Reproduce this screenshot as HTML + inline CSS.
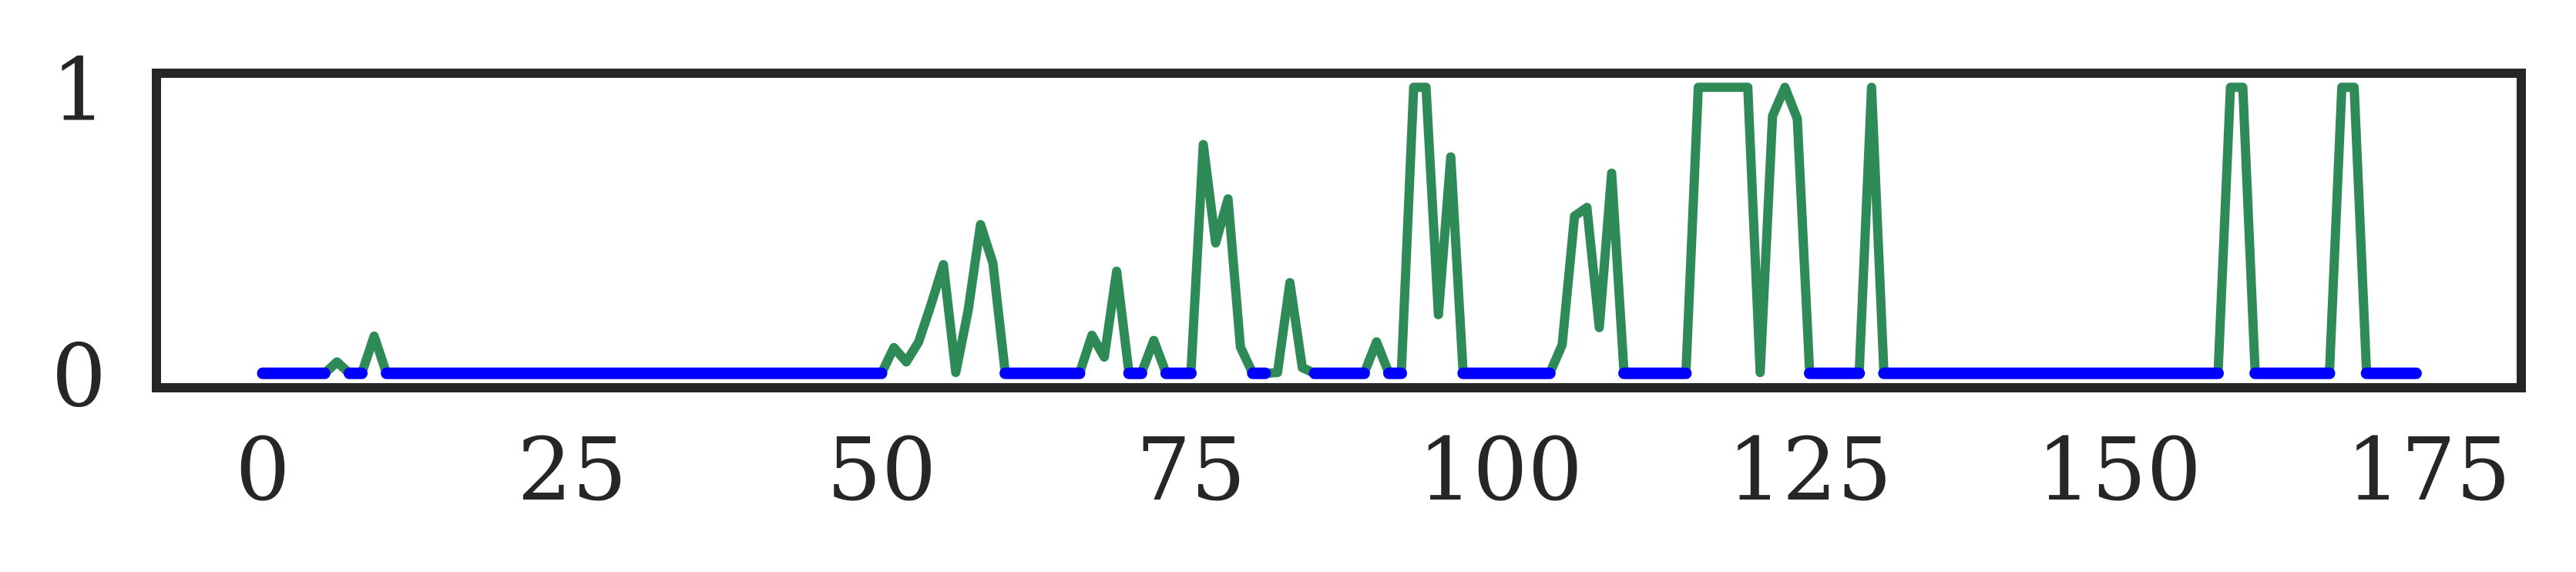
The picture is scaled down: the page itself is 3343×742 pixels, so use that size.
<!DOCTYPE html>
<html><head><meta charset="utf-8">
<style>
html,body{margin:0;padding:0;background:#fff;}
svg{display:block;}
text{font-family:"DejaVu Serif","Liberation Serif",serif;fill:#262626;}
</style></head>
<body>
<svg id="chart" width="3343" height="742" viewBox="0 0 3343 742" xmlns="http://www.w3.org/2000/svg">
<rect x="0" y="0" width="3343" height="742" fill="#fff"/>
<g id="marks"></g>
<g id="ticks"></g>
<rect x="203" y="95" width="3069" height="408" fill="none" stroke="#262626" stroke-width="12"/>
</svg>
<script>
const xTicks = [0, 25, 50, 75, 100, 125, 150, 175];
const yTicks = [0, 1];
const greenValues = [
0,0,0,0,0,0,0.04,0,0,0.13,
0,0,0,0,0,0,0,0,0,0,
0,0,0,0,0,0,0,0,0,0,
0,0,0,0,0,0,0,0,0,0,
0,0,0,0,0,0,0,0,0,0,
0,0.09,0.04,0.11,0.24,0.38,0.003,0.22,0.52,0.385,
0,0,0,0,0,0,0,0.133,0.057,0.357,
0,0,0.115,0,0,0,0.8,0.456,0.61,0.092,
0,0,0.003,0.317,0.02,0,0,0,0,0,
0.11,0,0,1,1,0.205,0.757,0,0,0,
0,0,0,0,0,0.1,0.55,0.58,0.16,0.7,
0,0,0,0,0,0,1,1,1,1,
1,0.003,0.9,1,0.89,0,0,0,0,0,
1,0,0,0,0,0,0,0,0,0,
0,0,0,0,0,0,0,0,0,0,
0,0,0,0,0,0,0,0,0,1,
1,0,0,0,0,0,0,0,1,1,
0,0,0,0,0
];
const blueValues = greenValues.map(v => v === 0 ? 0 : null);

const X0 = 341, XS = 16.06, Y0 = 484.3, YS = 371;
function xs(i){ return X0 + i * XS; }
function ys(v){ return Y0 - v * YS; }
const NS = "http://www.w3.org/2000/svg";
const marks = document.getElementById('marks');
const ticks = document.getElementById('ticks');

let d = greenValues.map((v,i)=>(i?'L':'M')+xs(i).toFixed(2)+' '+ys(v).toFixed(2)).join(' ');
const g = document.createElementNS(NS,'path');
g.setAttribute('d', d);
g.setAttribute('fill','none');
g.setAttribute('stroke','#2e8b57');
g.setAttribute('stroke-width','12');
g.setAttribute('stroke-linejoin','round');
g.setAttribute('stroke-linecap','round');


marks.appendChild(g);

let seg = [];
function flush(){
  if(seg.length){
    const p = document.createElementNS(NS,'path');
    let dd = seg.map((i,k)=>(k?'L':'M')+xs(i).toFixed(2)+' '+ys(blueValues[i]).toFixed(2)).join(' ');
    if(seg.length===1) dd += ' l0.01 0';
    p.setAttribute('d', dd);
    p.setAttribute('fill','none');
    p.setAttribute('stroke','#0000ff');
    p.setAttribute('stroke-width','15');
    p.setAttribute('stroke-linecap','round');
    p.setAttribute('stroke-linejoin','round');
    
    
    marks.appendChild(p);
  }
  seg = [];
}
blueValues.forEach((v,i)=>{ if(v===null) flush(); else seg.push(i); });
flush();

xTicks.forEach(t=>{
  const tx = document.createElementNS(NS,'text');
  tx.setAttribute('x', xs(t));
  tx.setAttribute('y', 648);
  tx.setAttribute('text-anchor','middle');
  tx.setAttribute('font-size','112');
  tx.textContent = t;
  
  
  ticks.appendChild(tx);
});
yTicks.forEach(t=>{
  const tx = document.createElementNS(NS,'text');
  tx.setAttribute('x', 138);
  tx.setAttribute('y', ys(t) + 42);
  tx.setAttribute('text-anchor','end');
  tx.setAttribute('font-size','112');
  tx.textContent = t;
  
  
  ticks.appendChild(tx);
});
</script>
</body></html>
